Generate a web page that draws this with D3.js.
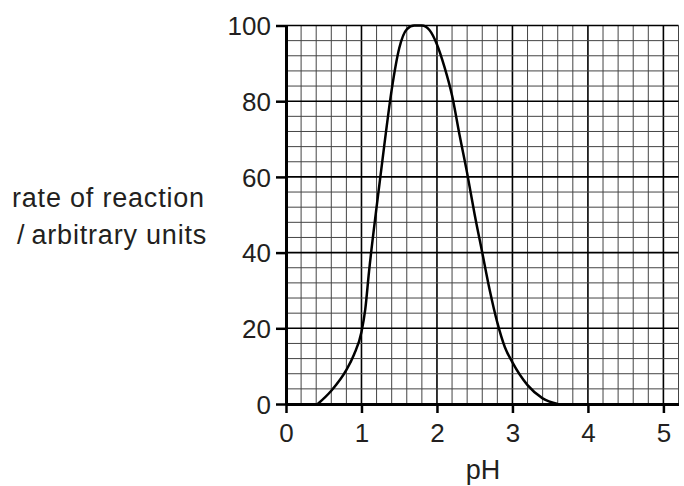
<!DOCTYPE html>
<html>
<head>
<meta charset="utf-8">
<script src="https://cdn.jsdelivr.net/npm/d3@7"></script>
<style>
body{margin:0;background:white}
text{font-family:"Liberation Sans",Arial,sans-serif;fill:#231f20}
</style>
</head>
<body>
<div id="chart"></div>
<script>

// DATA

const phValues = [0.42,0.6,0.8,0.9,1.0,1.05,1.1,1.2,1.3,1.4,1.5,1.6,1.7,1.8,1.9,2.0,2.1,2.2,2.3,2.4,2.5,2.6,2.7,2.8,2.9,3.0,3.2,3.4,3.6]
const rateValues = [0,3.5,9,13,19,25,35,52,68,83,94,99,100,100,98.8,95,89,81.5,71,61,50,40,30,21.5,15,11,5,1.5,0]
const xTicks = [0,1,2,3,4,5]
const yTicks = [0,20,40,60,80,100]
const yLabelLines = ["rate of reaction","/\u2009arbitrary units"]
const xLabel = "pH"

const data = phValues.map((p,i)=>({ph:p,rate:rateValues[i]}))


// SETUP

const width = 684
const height = 486

const svg = d3.select("#chart")
.append("svg")
.attr("width",width)
.attr("height",height)

const x = d3.scaleLinear()
.domain([0,5.2])
.range([286,678.5])

const y = d3.scaleLinear()
.domain([0,100])
.range([404,25.5])


// GRID

const minorX = d3.range(0,26+1).map(i=>i*0.2)
const minorY = d3.range(0,25+1).map(i=>i*4)

svg.append("g")
.selectAll("line")
.data(minorX)
.enter()
.append("line")
.attr("x1",d=>x(d))
.attr("x2",d=>x(d))
.attr("y1",y(0))
.attr("y2",y(100))
.attr("stroke",d=>Math.abs(d-Math.round(d))<1e-6?"#000":"#444")
.attr("stroke-width",d=>Math.abs(d-Math.round(d))<1e-6?1.6:1)

svg.append("g")
.selectAll("line")
.data(minorY)
.enter()
.append("line")
.attr("x1",x(0))
.attr("x2",x(5.2))
.attr("y1",d=>y(d))
.attr("y2",d=>y(d))
.attr("stroke",d=>d%20===0?"#000":"#444")
.attr("stroke-width",d=>d%20===0?1.6:1)


// AXES

const xAxis = svg.append("g")
.attr("transform",`translate(0,${y(0)})`)
.call(d3.axisBottom(x).tickValues(xTicks).tickFormat(d3.format("d")).tickSize(9).tickPadding(11).tickSizeOuter(0))

const yAxis = svg.append("g")
.attr("transform",`translate(${x(0)},0)`)
.call(d3.axisLeft(y).tickValues(yTicks).tickFormat(d3.format("d")).tickSize(10).tickPadding(5).tickSizeOuter(0))

xAxis.select(".domain").attr("stroke","#000").attr("stroke-width",3)
yAxis.select(".domain").attr("stroke","#000").attr("stroke-width",3)
svg.selectAll(".tick line").attr("stroke","#000").attr("stroke-width",2.5)
svg.selectAll(".tick text")
.style("font-family","'Liberation Sans',Arial,sans-serif")
.style("font-size","26px")
.attr("fill","#231f20")

yAxis.selectAll(".tick text").attr("dy","0.35em")


// CURVE

const line = d3.line()
.x(d=>x(d.ph))
.y(d=>y(d.rate))
.curve(d3.curveMonotoneX)

svg.append("path")
.datum(data)
.attr("fill","none")
.attr("stroke","#000")
.attr("stroke-width",2.5)
.attr("d",line)


// LABELS

svg.append("text")
.attr("x",483)
.attr("y",479)
.attr("text-anchor","middle")
.style("font-size","27px")
.text(xLabel)

svg.append("g")
.selectAll("text")
.data(yLabelLines)
.enter()
.append("text")
.attr("x",(d,i)=>i===0?12:17)
.attr("y",(d,i)=>207+i*37)
.style("font-size","27px")
.style("letter-spacing","0.8px")
.text(d=>d)

</script>
</body>
</html>
